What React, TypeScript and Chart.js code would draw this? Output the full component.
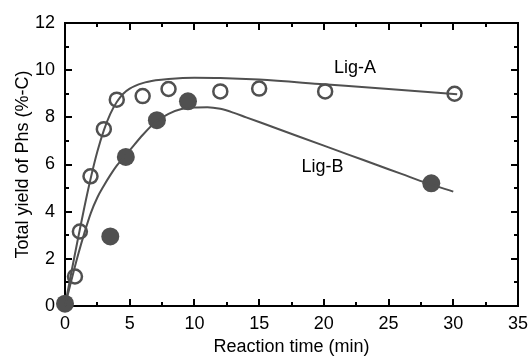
import React, { useEffect, useRef } from 'react';
import { Chart, registerables } from 'chart.js';

Chart.register(...registerables);

// Measured data points
const ligATimes = [0.77, 1.15, 1.97, 3.0, 4.0, 6.0, 8.0, 12.0, 15.0, 20.1, 30.1];
const ligAYields = [1.25, 3.16, 5.5, 7.5, 8.75, 8.9, 9.2, 9.1, 9.22, 9.1, 9.0];
const ligBTimes = [0, 3.5, 4.7, 7.1, 9.5, 28.3];
const ligBYields = [0.1, 2.95, 6.32, 7.88, 8.68, 5.2];

// Fitted curves
const fitATimes = [0, 0.5, 1, 1.5, 2, 2.5, 3, 3.5, 4, 4.5, 5, 6, 7, 8, 10, 12, 15, 20, 25, 30.3];
const fitAYields = [0, 1.45, 2.85, 4.2, 5.45, 6.55, 7.45, 8.15, 8.65, 9.0, 9.22, 9.45, 9.57, 9.63, 9.68, 9.67, 9.6, 9.4, 9.2, 8.98];
const fitBTimes = [0, 0.5, 1, 1.5, 2, 2.5, 3, 3.5, 4, 5, 6, 7, 8, 9, 10, 11, 12, 13, 14, 15, 16, 18, 20, 22, 24, 26, 28, 30];
const fitBYields = [0, 1.1, 2.15, 3.1, 3.95, 4.6, 5.1, 5.55, 5.95, 6.6, 7.25, 7.8, 8.15, 8.35, 8.42, 8.43, 8.36, 8.2, 8.0, 7.8, 7.6, 7.2, 6.8, 6.4, 6.0, 5.6, 5.2, 4.85];

// Axis ticks
const xMajorTicks = [0, 5, 10, 15, 20, 25, 30, 35];
const xMinorTicks = [2.5, 7.5, 12.5, 17.5, 22.5, 27.5, 32.5];
const yMajorTicks = [0, 2, 4, 6, 8, 10, 12];
const yMinorTicks = [1, 3, 5, 7, 9, 11];

// Curve labels
const labelTexts = ['Lig-A', 'Lig-B'];
const labelX = [22.4, 19.9];
const labelY = [10.09, 5.9];

const GRAY = '#505050';
const FONT = "'Liberation Sans', Arial, sans-serif";

const toXY = (xs: number[], ys: number[]) => xs.map((x, i) => ({ x, y: ys[i] }));

const framePlugin = {
  id: 'frame',
  beforeDatasetsDraw(chart: any) {
    const { ctx, chartArea: a, scales } = chart;
    const xs = scales.x;
    const ys = scales.y;
    ctx.save();
    ctx.strokeStyle = '#000';
    ctx.lineWidth = 2;
    ctx.strokeRect(a.left, a.top, a.right - a.left, a.bottom - a.top);
    const drawX = (v: number, len: number) => {
      const px = Math.round(xs.getPixelForValue(v));
      ctx.beginPath();
      ctx.moveTo(px, a.bottom);
      ctx.lineTo(px, a.bottom - len);
      ctx.moveTo(px, a.top);
      ctx.lineTo(px, a.top + len);
      ctx.stroke();
    };
    const drawY = (v: number, len: number) => {
      const py = Math.round(ys.getPixelForValue(v));
      ctx.beginPath();
      ctx.moveTo(a.left, py);
      ctx.lineTo(a.left + len, py);
      ctx.moveTo(a.right, py);
      ctx.lineTo(a.right - len, py);
      ctx.stroke();
    };
    xMajorTicks.forEach((v) => drawX(v, 7));
    xMinorTicks.forEach((v) => drawX(v, 4));
    yMajorTicks.forEach((v) => drawY(v, 7));
    yMinorTicks.forEach((v) => drawY(v, 4));
    ctx.restore();
  },
  afterDatasetsDraw(chart: any) {
    const { ctx, scales } = chart;
    ctx.save();
    ctx.fillStyle = '#000';
    ctx.font = `18px ${FONT}`;
    ctx.textAlign = 'center';
    ctx.textBaseline = 'middle';
    labelTexts.forEach((t, i) => {
      ctx.fillText(t, scales.x.getPixelForValue(labelX[i]), scales.y.getPixelForValue(labelY[i]));
    });
    ctx.restore();
  },
};

export default function App() {
  const ref = useRef<HTMLCanvasElement | null>(null);
  useEffect(() => {
    document.body.style.margin = '0';
    const canvas = ref.current;
    if (!canvas) return;
    const chart = new Chart(canvas, {
      type: 'scatter',
      data: {
        datasets: [
          {
            label: 'Lig-A fit',
            data: toXY(fitATimes, fitAYields),
            showLine: true,
            borderColor: GRAY,
            borderWidth: 2,
            pointRadius: 0,
            cubicInterpolationMode: 'monotone',
            clip: false,
          },
          {
            label: 'Lig-B fit',
            data: toXY(fitBTimes, fitBYields),
            showLine: true,
            borderColor: GRAY,
            borderWidth: 2,
            pointRadius: 0,
            cubicInterpolationMode: 'monotone',
            clip: false,
          },
          {
            label: 'Lig-A',
            data: toXY(ligATimes, ligAYields),
            showLine: false,
            pointRadius: 7,
            pointBorderWidth: 2.5,
            pointBorderColor: GRAY,
            pointBackgroundColor: 'rgba(255,255,255,0)',
            clip: false,
          },
          {
            label: 'Lig-B',
            data: toXY(ligBTimes, ligBYields),
            showLine: false,
            pointRadius: 9,
            pointBorderWidth: 0,
            pointBackgroundColor: GRAY,
            pointBorderColor: GRAY,
            clip: false,
          },
        ],
      },
      options: {
        animation: false,
        responsive: false,
        devicePixelRatio: 1,
        layout: { padding: { top: 23, right: 10, left: 0, bottom: 0 } },
        plugins: { legend: { display: false }, tooltip: { enabled: false } },
        scales: {
          x: {
            type: 'linear',
            min: 0,
            max: 35,
            afterFit: (s: any) => { s.height = 52; s.paddingLeft = 0; s.paddingRight = 0; },
            afterBuildTicks: (s: any) => { s.ticks = xMajorTicks.map((v) => ({ value: v })); },
            grid: { display: false, drawTicks: false },
            border: { display: false },
            ticks: { color: '#000', padding: 7, font: { family: FONT, size: 18 }, maxRotation: 0, autoSkip: false },
            title: {
              display: true,
              text: 'Reaction time (min)',
              color: '#000',
              font: { family: FONT, size: 18 },
              padding: { top: 0, bottom: 0 },
            },
          },
          y: {
            type: 'linear',
            min: 0,
            max: 12,
            afterFit: (s: any) => { s.width = 65; s.paddingTop = 0; s.paddingBottom = 0; },
            afterBuildTicks: (s: any) => { s.ticks = yMajorTicks.map((v) => ({ value: v })); },
            grid: { display: false, drawTicks: false },
            border: { display: false },
            ticks: { color: '#000', padding: 10, font: { family: FONT, size: 18 }, autoSkip: false },
            title: {
              display: true,
              text: 'Total yield of Phs (%-C)',
              color: '#000',
              font: { family: FONT, size: 18 },
              padding: { top: 12, bottom: 0 },
            },
          },
        },
      },
      plugins: [framePlugin],
    } as any);
    return () => chart.destroy();
  }, []);
  return (
    <div style={{ position: 'absolute', left: 0, top: 0, width: 528, height: 358 }}>
      <canvas ref={ref} width={528} height={358} style={{ width: 528, height: 358 }} />
    </div>
  );
}
